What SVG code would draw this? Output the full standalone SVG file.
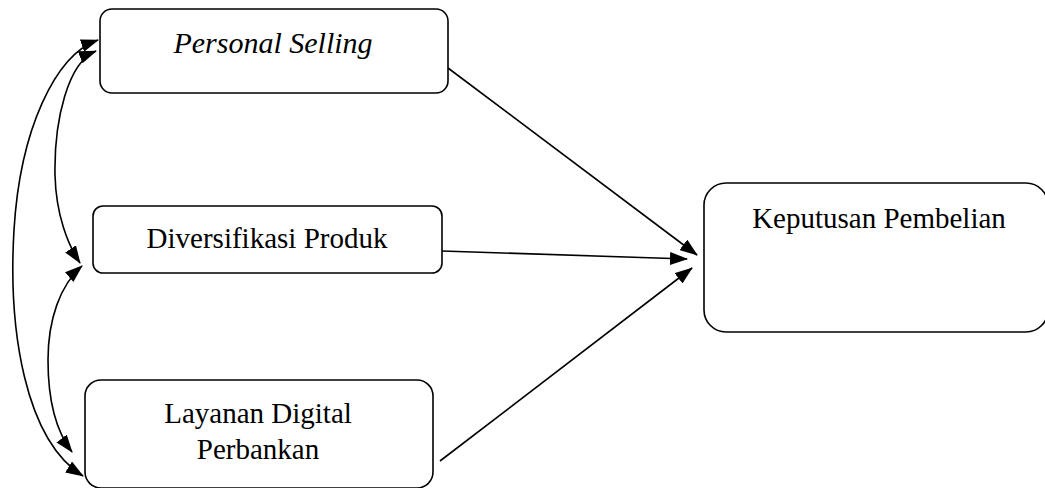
<svg xmlns="http://www.w3.org/2000/svg" width="1045" height="488" viewBox="0 0 1045 488">
  <style>
    .box { fill: #ffffff; stroke: #000000; stroke-width: 1.6; }
    .label { font-family: 'Liberation Serif', 'Times New Roman', serif; font-size: 29px; fill: #000000; text-anchor: middle; }
    .ital { font-style: italic; font-size: 30px; }
    .link { fill: none; stroke: #000000; stroke-width: 1.6; }
  </style>
  <defs>
    <marker id="head" viewBox="0 0 18 13" refX="17" refY="6.5" markerWidth="18" markerHeight="13" markerUnits="userSpaceOnUse" orient="auto-start-reverse">
      <path d="M0,0 L18,6.5 L0,13 z" fill="#000000"/>
    </marker>
  </defs>

  <rect width="1045" height="488" fill="#ffffff"/>

  <g id="personal-selling">
    <rect class="box" x="100" y="9" width="348" height="84" rx="12" ry="12"/>
    <text class="label ital" x="273" y="53">Personal Selling</text>
  </g>

  <g id="diversifikasi-produk">
    <rect class="box" x="93" y="206" width="349" height="67" rx="10" ry="10"/>
    <text class="label" x="267" y="248">Diversifikasi Produk</text>
  </g>

  <g id="layanan-digital">
    <rect class="box" x="85" y="380" width="348" height="108" rx="16" ry="16"/>
    <text class="label" x="258" y="423">Layanan Digital</text>
    <text class="label" x="258" y="459">Perbankan</text>
  </g>

  <g id="keputusan-pembelian">
    <rect class="box" x="704" y="183" width="344" height="149" rx="22" ry="22"/>
    <text class="label" x="879" y="228">Keputusan Pembelian</text>
  </g>

  <g id="connectors">
    <!-- direct effects on the purchase decision -->
    <line class="link" x1="448" y1="68" x2="697" y2="255" marker-end="url(#head)"/>
    <line class="link" x1="442" y1="251" x2="687" y2="259" marker-end="url(#head)"/>
    <line class="link" x1="440" y1="461" x2="692" y2="268" marker-end="url(#head)"/>
    <!-- correlations between the independent variables -->
    <path class="link" d="M98,40 C55,55 20,130 14,230 S25,440 83,476" marker-start="url(#head)" marker-end="url(#head)"/>
    <path class="link" d="M96,51 C68,62 54,120 55,175 C56,215 68,245 80,263" marker-start="url(#head)" marker-end="url(#head)"/>
    <path class="link" d="M82,266 C60,285 48,320 48,360 C48,400 55,430 72,452" marker-start="url(#head)" marker-end="url(#head)"/>
  </g>
</svg>
